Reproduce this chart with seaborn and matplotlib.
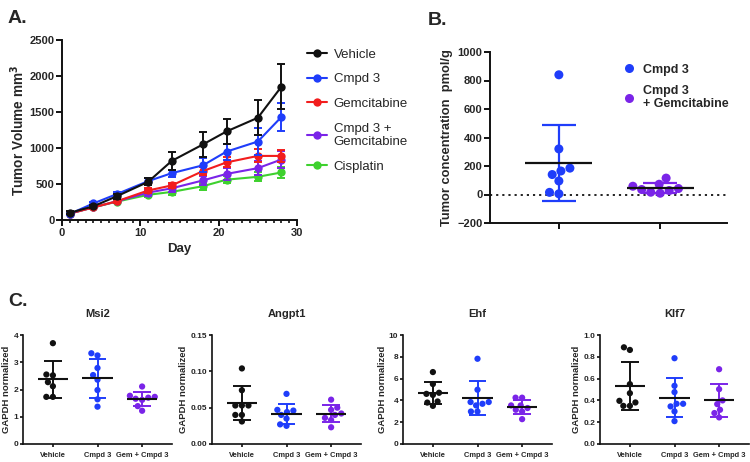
import numpy as np
import pandas as pd
import matplotlib
matplotlib.use("Agg")
import matplotlib.pyplot as plt
from matplotlib.lines import Line2D
from matplotlib.ticker import MultipleLocator
import seaborn as sns

# ---------------- data ----------------
days = [1, 4, 7, 11, 14, 18, 21, 25, 28]
groupsA = ["Vehicle", "Cmpd 3", "Gemcitabine", "Cmpd 3 +\nGemcitabine", "Cisplatin"]
vehicle_mean = [100, 190, 330, 530, 820, 1050, 1230, 1420, 1850]
vehicle_err = [20, 25, 35, 50, 125, 170, 175, 240, 310]
cmpd3_mean = [85, 230, 360, 540, 650, 760, 950, 1090, 1430]
cmpd3_err = [15, 25, 30, 40, 50, 100, 110, 190, 200]
gem_mean = [90, 175, 260, 410, 480, 680, 800, 890, 890]
gem_err = [15, 20, 25, 30, 40, 50, 70, 90, 80]
combo_mean = [90, 175, 260, 380, 440, 550, 640, 720, 840]
combo_err = [15, 20, 25, 40, 50, 60, 80, 100, 120]
cis_mean = [90, 175, 255, 350, 390, 470, 560, 600, 660]
cis_err = [15, 20, 25, 30, 40, 50, 50, 60, 70]

groupsB = ["Cmpd 3", "Cmpd 3\n+ Gemcitabine"]
conc_cmpd3 = [840, 320, 185, 165, 140, 95, 15, 5]
conc_combo = [115, 72, 58, 42, 35, 28, 16, 9]

groupsC = ["Vehicle", "Cmpd 3", "Gem + Cmpd 3"]
genes = ["Msi2", "Angpt1", "Ehf", "Klf7"]
msi2 = [[3.70, 2.55, 2.52, 2.27, 2.12, 1.73, 1.73],
        [3.33, 3.25, 2.79, 2.53, 2.36, 1.98, 1.64, 1.37],
        [2.11, 1.77, 1.73, 1.70, 1.66, 1.62, 1.39, 1.22]]
angpt1 = [[0.104, 0.074, 0.053, 0.053, 0.053, 0.040, 0.040, 0.031],
          [0.069, 0.047, 0.046, 0.044, 0.040, 0.035, 0.027, 0.025],
          [0.061, 0.050, 0.047, 0.042, 0.040, 0.036, 0.033, 0.023]]
ehf = [[6.6, 5.5, 4.7, 4.6, 4.5, 3.9, 3.8, 3.5],
       [7.82, 4.98, 3.85, 3.85, 3.69, 3.54, 2.98, 2.98],
       [4.25, 4.25, 3.54, 3.54, 3.3, 3.14, 2.98, 2.28]]
klf7 = [[0.887, 0.863, 0.549, 0.466, 0.396, 0.381, 0.35, 0.35],
        [0.787, 0.534, 0.476, 0.369, 0.369, 0.345, 0.299, 0.21],
        [0.686, 0.503, 0.40, 0.366, 0.314, 0.284, 0.244]]
ylimsC = [(0, 4), (0, 0.15), (0, 10), (0, 1.0)]
yticksC = [[0, 1, 2, 3, 4], [0, 0.05, 0.10, 0.15], [0, 2, 4, 6, 8, 10],
           [0, 0.2, 0.4, 0.6, 0.8, 1.0]]
yfmtC = ["{:.0f}", "{:.2f}", "{:.0f}", "{:.1f}"]

# ---------------- style ----------------
sns.set_style("ticks")
plt.rcParams["font.family"] = ["Liberation Sans", "DejaVu Sans"]
plt.rcParams["axes.linewidth"] = 1.4

BLACK = "#111111"
BLUE = "#1f3dfa"
RED = "#f21d1d"
PURPLE = "#7a24e8"
GREEN = "#3ed12e"
colorsA = [BLACK, BLUE, RED, PURPLE, GREEN]

fig = plt.figure(figsize=(7.5, 4.62), dpi=100)
W, H = 750, 462


def add_ax(l, t, r, b):
    return fig.add_axes([l / W, 1 - b / H, (r - l) / W, (b - t) / H])


def style_ax(ax, lw=1.4, ticklen=4, fs=7, pad=1.5):
    sns.despine(ax=ax)
    for s in ("left", "bottom"):
        ax.spines[s].set_linewidth(lw)
        ax.spines[s].set_color(BLACK)
    ax.tick_params(width=lw, length=ticklen, labelsize=fs, color=BLACK, pad=pad)
    for lab in ax.get_xticklabels() + ax.get_yticklabels():
        lab.set_fontweight("bold")


# ---------------- Panel A ----------------
axA = add_ax(62, 40, 297, 220)
means = [vehicle_mean, cmpd3_mean, gem_mean, combo_mean, cis_mean]
errs = [vehicle_err, cmpd3_err, gem_err, combo_err, cis_err]
dfA = pd.DataFrame({
    "Day": np.tile(days, len(groupsA)),
    "Volume": np.concatenate(means),
    "Err": np.concatenate(errs),
    "Group": np.repeat(groupsA, len(days)),
})
for i in reversed(range(len(groupsA))):
    sub = dfA[dfA["Group"] == groupsA[i]]
    axA.errorbar(sub["Day"], sub["Volume"], yerr=sub["Err"], fmt="none",
                 ecolor=colorsA[i], elinewidth=1.4, capsize=3, capthick=1.4,
                 zorder=2 + (len(groupsA) - i))
    sns.lineplot(data=sub, x="Day", y="Volume", color=colorsA[i], marker="o",
                 markersize=6, markeredgewidth=0, linewidth=1.5, ax=axA,
                 zorder=3 + (len(groupsA) - i), legend=False)
axA.set_xlim(0, 30)
axA.set_ylim(0, 2500)
axA.set_xticks([0, 10, 20, 30])
axA.xaxis.set_minor_locator(MultipleLocator(1))
axA.set_yticks([0, 500, 1000, 1500, 2000, 2500])
axA.set_xlabel("Day", fontsize=9.5, fontweight="bold", labelpad=4)
axA.set_ylabel("Tumor Volume mm$\\mathbf{^3}$", fontsize=9.8, fontweight="bold", labelpad=2)
style_ax(axA, fs=8)
axA.tick_params(axis="x", which="minor", length=2.5, width=1.2, color=BLACK)
for sp in ("left", "bottom"):
    axA.spines[sp].set_clip_on(False)
handlesA = [Line2D([0], [0], color=c, marker="o", markersize=6, lw=1.5, markeredgewidth=0)
            for c in colorsA]
legA = axA.legend(handlesA, groupsA, loc="upper left", bbox_to_anchor=(1.005, 1.005),
                  frameon=False, fontsize=9.5, handlelength=1.5, handletextpad=0.5,
                  labelspacing=0.95, borderaxespad=0.3)
for t in legA.get_texts():
    t.set_linespacing(1.15)

# ---------------- Panel B ----------------
axB = add_ax(490, 52, 727, 223)
dfB = pd.DataFrame({
    "Group": [groupsB[0]] * len(conc_cmpd3) + [groupsB[1]] * len(conc_combo),
    "Conc": conc_cmpd3 + conc_combo,
})
axB.axhline(0, color=BLACK, ls=(0, (1.2, 2.2)), lw=1.3, zorder=1)
sns.swarmplot(data=dfB, x="Group", y="Conc", hue="Group", order=groupsB,
              palette=[BLUE, PURPLE], size=6.5, ax=axB, legend=False, zorder=3)
for i, g in enumerate(groupsB):
    v = dfB.loc[dfB["Group"] == g, "Conc"].to_numpy()
    m, s = v.mean(), v.std(ddof=1)
    col = [BLUE, PURPLE][i]
    axB.vlines(i, m - s, m + s, color=col, lw=1.6, zorder=2)
    axB.hlines([m - s, m + s], i - 0.17, i + 0.17, color=col, lw=1.6, zorder=2)
    axB.hlines(m, i - 0.33, i + 0.33, color=BLACK, lw=1.6, zorder=4)
axB.set_xlim(-0.68, 1.66)
axB.set_ylim(-200, 1000)
axB.set_yticks([-200, 0, 200, 400, 600, 800, 1000])
axB.set_xticks([0, 1])
axB.set_xticklabels(["", ""])
axB.set_xlabel("")
axB.set_ylabel("Tumor concentration  pmol/g", fontsize=9.3, fontweight="bold", labelpad=3)
style_ax(axB, fs=8)
handlesB = [Line2D([0], [0], color=c, marker="o", markersize=6.5, lw=0, markeredgewidth=0)
            for c in (BLUE, PURPLE)]
legB = axB.legend(handlesB, groupsB, loc="upper left", bbox_to_anchor=(0.54, 0.96),
                  frameon=False, fontsize=9, handlelength=1.0, handletextpad=0.6,
                  labelspacing=0.7, borderaxespad=0)
for t in legB.get_texts():
    t.set_fontweight("bold")

# ---------------- Panel C ----------------
datasC = [msi2, angpt1, ehf, klf7]
leftsC = [23, 212, 403, 600]
colorsC = [BLACK, BLUE, PURPLE]
for k, gene in enumerate(genes):
    ax = add_ax(leftsC[k], 335, leftsC[k] + 149, 444)
    rows = []
    for gi, g in enumerate(groupsC):
        for val in datasC[k][gi]:
            rows.append((g, val))
    dfC = pd.DataFrame(rows, columns=["Group", "Value"])
    sns.swarmplot(data=dfC, x="Group", y="Value", hue="Group", order=groupsC,
                  hue_order=groupsC, palette=colorsC, size=4.5, ax=ax, legend=False,
                  zorder=3)
    for gi, g in enumerate(groupsC):
        v = dfC.loc[dfC["Group"] == g, "Value"].to_numpy()
        m, s = v.mean(), v.std(ddof=1)
        ax.vlines(gi, m - s, m + s, color=colorsC[gi], lw=1.4, zorder=2)
        ax.hlines([m - s, m + s], gi - 0.2, gi + 0.2, color=colorsC[gi], lw=1.4, zorder=2)
        ax.hlines(m, gi - 0.34, gi + 0.34, color=BLACK, lw=1.5, zorder=4)
    ax.set_xlim(-0.67, 2.67)
    ax.set_ylim(*ylimsC[k])
    ax.set_yticks(yticksC[k])
    ax.set_yticklabels([yfmtC[k].format(t) for t in yticksC[k]])
    ax.set_xlabel("")
    ax.set_ylabel("GAPDH normalized", fontsize=6.8, fontweight="bold", labelpad=1.5)
    ax.set_title(gene, fontsize=8, fontweight="bold", pad=13)
    style_ax(ax, lw=1.2, ticklen=2.5, fs=6, pad=1)
    ax.tick_params(axis="x", labelsize=5.4, pad=3)
    for lab in ax.get_xticklabels() + ax.get_yticklabels():
        lab.set_fontweight("bold")

# panel letters
fig.text(8 / W, 1 - 23 / H, "A.", fontsize=14, fontweight="bold")
fig.text(428 / W, 1 - 25 / H, "B.", fontsize=14, fontweight="bold")
fig.text(8 / W, 1 - 306 / H, "C.", fontsize=14, fontweight="bold")

fig.savefig("out.png", dpi=100)
